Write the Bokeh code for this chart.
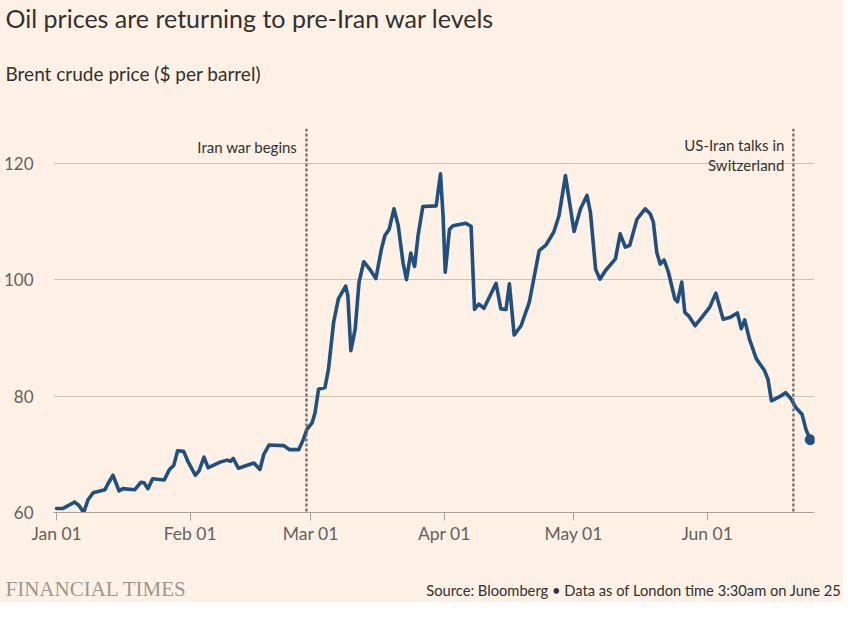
import pandas as pd
from bokeh.plotting import figure
from bokeh.layouts import column
from bokeh.models import (ColumnDataSource, FixedTicker, DatetimeTickFormatter,
                          Span, Label, Range1d)
from bokeh.embed import file_html
from bokeh.resources import INLINE

# ---------------- data ----------------
start_date = "2026-01-01"
days_since_start = [
    0.0, 1.5, 4.2, 5.2, 6.3, 7.3, 8.5, 11.2, 11.9, 13.1, 14.5, 15.4, 18.1, 19.6, 20.3,
    21.2, 22.3, 25.0, 26.2, 27.2, 28.1, 29.5, 30.6, 32.2, 33.1, 34.2, 35.2, 38.1, 39.6,
    40.4, 41.0, 42.2, 45.8, 47.2, 48.1, 49.3, 52.7, 54.1, 56.2, 57.3, 58.1, 59.3, 60.0,
    60.8, 62.3, 63.1, 64.3, 65.4, 67.1, 67.6, 68.3, 69.3, 70.2, 71.3, 72.7, 74.1, 75.4,
    76.2, 77.2, 78.3, 79.3, 80.4, 81.2, 82.2, 83.1, 83.9, 85.0, 88.1, 89.1, 89.7, 90.2,
    91.2, 92.0, 95.0, 96.2, 97.0, 98.0, 99.2, 102.0, 103.1, 104.3, 105.1, 106.2, 107.8,
    109.7, 112.0, 113.5, 115.4, 116.6, 118.1, 120.1, 121.6, 123.1, 123.9, 125.1, 126.1,
    127.4, 129.7, 130.8, 132.0, 133.0, 134.7, 136.6, 137.8, 138.5, 139.3, 140.1, 141.0,
    142.0, 143.5, 144.1, 145.1, 145.8, 146.8, 148.2, 149.7, 151.6, 153.0, 154.7, 156.2,
    158.0, 158.9, 159.7, 160.8, 162.4, 164.3, 165.1, 165.9, 167.8, 169.2, 170.5, 171.5,
    173.0, 173.9, 174.9,
]
brent_price = [
    60.7, 60.7, 61.8, 61.2, 60.0, 62.2, 63.4, 63.9, 64.9, 66.4, 63.7, 64.1, 63.9, 65.2, 65.1,
    64.1, 65.8, 65.6, 67.4, 68.1, 70.6, 70.5, 68.6, 66.4, 67.2, 69.5, 67.7, 68.7, 69.0,
    68.8, 69.3, 67.6, 68.5, 67.4, 70.0, 71.6, 71.5, 70.8, 70.8, 72.6, 74.3, 75.4, 77.2,
    81.2, 81.5, 84.6, 92.7, 96.7, 98.9, 97.3, 87.8, 91.5, 99.6, 103.1, 101.8, 100.2, 105.3,
    107.6, 108.7, 112.2, 109.3, 103.0, 100.0, 104.6, 102.3, 107.6, 112.6, 112.7, 118.2, 111.0, 101.3,
    108.7, 109.3, 109.7, 109.2, 94.9, 95.8, 95.1, 99.4, 95.0, 94.9, 99.3, 90.5, 92.1,
    96.1, 105.0, 105.9, 108.2, 111.0, 117.9, 108.3, 112.2, 114.5, 111.6, 101.8, 100.1,
    101.6, 103.6, 107.9, 105.6, 105.9, 110.4, 112.2, 111.3, 109.9, 104.7, 102.7, 103.4,
    101.3, 96.7, 96.2, 99.6, 94.4, 93.7, 92.1, 93.5, 95.3, 97.7, 93.2, 93.5,
    94.3, 91.6, 93.1, 89.8, 86.4, 84.4, 82.9, 79.2, 79.9, 80.6, 79.5, 78.1,
    76.9, 74.3, 72.5,
]
event_dates = ["2026-02-28", "2026-06-21"]
event_text_iran = "Iran war begins"
event_text_talks = ["US-Iran talks in", "Switzerland"]
x_tick_dates = ["2026-01-01", "2026-02-01", "2026-03-01", "2026-04-01", "2026-05-01", "2026-06-01"]
y_ticks = [60, 80, 100, 120]
title_text = "Oil prices are returning to pre-Iran war levels"
subtitle_text = "Brent crude price ($ per barrel)"
brand_text = "FINANCIAL TIMES"
source_text = "Source: Bloomberg \u2022 Data as of London time 3:30am on June 25"

# ---------------- styling ----------------
BG = "#fff1e5"
INK = "#33302e"
GREY = "#66605c"
LINE = "#20507f"
W = 843
HEAD_H = 128
MAIN_H = 424
FOOT_H = 50


def text_panel(height):
    f = figure(width=W, height=height, x_range=Range1d(0, W), y_range=Range1d(0, height),
               output_backend="svg", toolbar_location=None,
               x_axis_location=None, y_axis_location=None,
               min_border_left=0, min_border_right=0, min_border_top=0, min_border_bottom=0,
               background_fill_color=BG, border_fill_color=BG, outline_line_color=None,
               frame_align=False)
    f.grid.visible = False
    return f


# ---------------- header ----------------
head = text_panel(HEAD_H)
head.add_layout(Label(x=5, y=HEAD_H - 17, text=title_text,
                      text_font="Lato", text_font_size="25px", text_color=INK,
                      text_baseline="middle"))
head.add_layout(Label(x=5, y=HEAD_H - 73, text=subtitle_text,
                      text_font="Lato", text_font_size="19px", text_color=INK,
                      text_baseline="middle"))

# ---------------- main chart ----------------
t0 = pd.Timestamp(start_date)
dates = t0 + pd.to_timedelta(days_since_start, unit="D")
src = ColumnDataSource(dict(date=dates, price=brent_price))

x_start = t0 - pd.Timedelta(hours=17)
x_end = t0 + pd.Timedelta(days=175.9)

p = figure(width=W, height=MAIN_H, x_axis_type="datetime",
           x_range=Range1d(x_start, x_end), y_range=Range1d(60, 126),
           output_backend="svg", toolbar_location=None,
           min_border_left=49, min_border_right=29, min_border_top=0, min_border_bottom=40,
           background_fill_color=BG, border_fill_color=BG, outline_line_color=None,
           frame_align=False)

p.xgrid.grid_line_color = None
p.ygrid.grid_line_color = "#cdc3ba"
p.ygrid.grid_line_width = 1
p.ygrid.ticker = FixedTicker(ticks=y_ticks)

p.yaxis.ticker = FixedTicker(ticks=y_ticks)
p.yaxis.axis_line_color = None
p.yaxis.major_tick_line_color = None
p.yaxis.minor_tick_line_color = None
p.yaxis.major_label_standoff = 14
p.yaxis.major_label_text_font = "Lato"
p.yaxis.major_label_text_font_size = "17px"
p.yaxis.major_label_text_color = GREY

tick_ms = [pd.Timestamp(d).value // 10**6 for d in x_tick_dates]
p.xaxis.ticker = FixedTicker(ticks=tick_ms)
p.xaxis.formatter = DatetimeTickFormatter(days="%b %d", months="%b %d", years="%b %d",
                                          hours="%b %d", minutes="%b %d")
p.xaxis.axis_line_color = "#a8a09a"
p.xaxis.axis_line_width = 1
p.xaxis.major_tick_line_color = "#a8a09a"
p.xaxis.major_tick_out = 8
p.xaxis.major_tick_in = 0
p.xaxis.minor_tick_line_color = None
p.xaxis.major_label_standoff = 2
p.xaxis.major_label_text_font = "Lato"
p.xaxis.major_label_text_font_size = "17.5px"
p.xaxis.major_label_text_color = GREY

for d in event_dates:
    p.add_layout(Span(location=pd.Timestamp(d), dimension="height",
                      line_color="#6f6863", line_width=2.2, line_dash="3 2"))

p.add_layout(Label(x=pd.Timestamp(event_dates[0]), y=122.9, text=event_text_iran,
                   x_offset=-9, text_align="right", text_baseline="middle",
                   text_font="Lato", text_font_size="15px", text_color=INK))
p.add_layout(Label(x=pd.Timestamp(event_dates[1]), y=123.1, text=event_text_talks[0],
                   x_offset=-9, text_align="right", text_baseline="middle",
                   text_font="Lato", text_font_size="15px", text_color=INK))
p.add_layout(Label(x=pd.Timestamp(event_dates[1]), y=119.7, text=event_text_talks[1],
                   x_offset=-9, text_align="right", text_baseline="middle",
                   text_font="Lato", text_font_size="15px", text_color=INK))

p.line("date", "price", source=src, line_color=LINE, line_width=3.6,
       line_join="round", line_cap="round")
end_src = ColumnDataSource(dict(date=[dates[-1]], price=[brent_price[-1]]))
p.scatter("date", "price", source=end_src, size=10, color=LINE)

# ---------------- footer ----------------
foot = text_panel(FOOT_H)
foot.add_layout(Label(x=5, y=14, text=brand_text,
                      text_font="Liberation Serif", text_font_size="21px", text_color="#9e9791",
                      text_baseline="middle"))
foot.add_layout(Label(x=W - 2, y=13, text=source_text,
                      text_font="Lato", text_font_size="14.7px", text_color=INK,
                      text_align="right", text_baseline="middle"))

layout = column(head, p, foot, spacing=0, styles={"background-color": BG})
open("out.html", "w").write(file_html(layout, INLINE))
